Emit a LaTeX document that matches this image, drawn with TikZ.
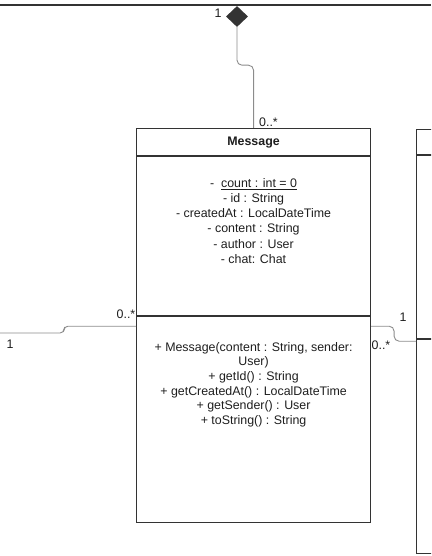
\documentclass[tikz,border=0pt]{standalone}
\usepackage{fontspec}
\setmainfont{Liberation Sans}
\usetikzlibrary{positioning,shapes.geometric}
\definecolor{umlline}{HTML}{333333}
\definecolor{umlwire}{HTML}{8C8C8C}
\definecolor{umltext}{HTML}{1E1E1E}

\begin{document}
\begin{tikzpicture}[x=1pt, y=-1pt,
  part/.style={draw=umlline, line width=1.1pt, inner sep=0pt, anchor=north west, minimum width=234pt},
  txt/.style={font=\fontsize{12.4}{15.2}\selectfont, text=umltext, inner sep=0pt},
  assoc/.style={draw=umlwire, line width=0.9pt, rounded corners=5pt},
  mult/.style={txt}]

\useasboundingbox (0,0) rectangle (431,556);
\clip (0,0) rectangle (431,556);

\draw[umlline, line width=1.1pt] (0,5) -- (431,5);

% Message class
\node[part, minimum height=27pt, txt, font=\fontsize{12.4}{15.2}\selectfont\bfseries] (msg_t) at (136,128) {Message};
\node[part, minimum height=159pt, below=0pt of msg_t] (msg_a) {};
\node[part, minimum height=206pt, below=0pt of msg_a] (msg_o) {};
\node[txt, align=center, below=22pt of msg_a.north] (msg_at)
  {-\ \ \underline{count : int = 0}\\- id : String\\- createdAt : LocalDateTime\\- content : String\\- author : User\\- chat: Chat};
\node[txt, align=center, font=\fontsize{12.4}{14.6}\selectfont, below=26pt of msg_o.north] (msg_ot)
  {+ Message(content : String, sender:\\User)\\+ getId() : String\\+ getCreatedAt() : LocalDateTime\\+ getSender() : User\\+ toString() : String};

% class on the right, cut off
\node[part, minimum width=100pt, minimum height=25pt] (side_t) at (416,129) {};
\node[part, minimum width=100pt, minimum height=183pt, below=0pt of side_t] (side_a) {};
\node[part, minimum width=100pt, minimum height=214pt, below=0pt of side_a] (side_o) {};

\node[diamond, fill=umlline, inner sep=0pt, minimum width=22pt, minimum height=21pt] (comp) at (237,16.5) {};

\draw[assoc] (comp.south) -- ++(0,38) -| (msg_t.north);

\coordinate (far_l) at (0,333);
\draw[assoc, rounded corners=4pt] (far_l) -- ++(64,0) |- ([yshift=-10pt]msg_o.north west);
\draw[assoc] ([yshift=-10pt]msg_o.north east) -- ++(23,0) |- ([yshift=-2pt]side_o.north west);

\node[mult] (m_top1) at (218,13) {1};
\node[mult] (m_top2) at (268.5,122) {0..*};
\node[mult] (m_l1) at (10,344) {1};
\node[mult] (m_l2) at (126,314) {0..*};
\node[mult] (m_r1) at (403,317) {1};
\node[mult] (m_r2) at (381,345) {0..*};

\end{tikzpicture}
\end{document}
